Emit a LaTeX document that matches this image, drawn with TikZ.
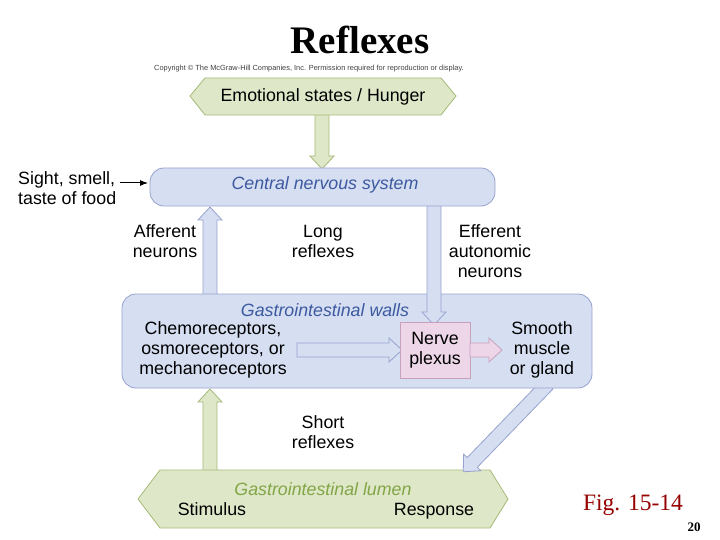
\documentclass[tikz,border=0pt]{standalone}
\usepackage{fontspec}
\setmainfont{Liberation Sans}
\newfontfamily\timesf{Liberation Serif}
\usetikzlibrary{arrows.meta}
\definecolor{gfill}{RGB}{222,232,200}
\definecolor{gedge}{RGB}{165,185,120}
\definecolor{bfill}{RGB}{214,222,242}
\definecolor{bedge}{RGB}{150,162,205}
\definecolor{pfill}{RGB}{236,214,232}
\definecolor{pedge}{RGB}{200,160,190}
\definecolor{btext}{RGB}{60,90,160}
\definecolor{gtext}{RGB}{130,165,70}
\definecolor{figred}{RGB}{150,0,0}
\tikzset{
  txt/.style={font=\fontsize{17.8}{20}\selectfont, align=center, inner sep=0},
  itb/.style={font=\fontsize{17.8}{20}\selectfont\itshape, text=btext, inner sep=0},
  garr/.style={fill=gfill, draw=gedge, line width=0.8pt},
  barr/.style={fill=bfill, draw=bedge, line width=0.8pt},
  parr/.style={fill=pfill, draw=pedge, line width=0.8pt},
  box/.style={line width=0.8pt},
}
\newcommand\farrow[5]{\begin{scope}[shift={(#1,#2)}, rotate=#3]
\draw[#5] (0,-7)--(#4-13,-7)--(#4-13,-12)--(#4,0)--(#4-13,12)--(#4-13,7)--(0,7)--cycle;
\end{scope}}
\begin{document}
\begin{tikzpicture}[x=1pt,y=-1pt]
\useasboundingbox (0,0) rectangle (720,540);
\node[font=\timesf\bfseries\fontsize{39}{41}\selectfont, inner sep=0] (title) at (360,40) {Reflexes};
\node[font=\fontsize{7.4}{8}\selectfont, text=black!75, inner sep=0] (copy) at (309,69) {Copyright © The McGraw-Hill Companies, Inc. Permission required for reproduction or display.};
% arrows behind boxes
\farrow{210}{296}{90}{89}{barr}
\farrow{210}{472}{90}{83}{garr}
\farrow{322}{113}{-90}{56}{garr}
% lumen
\draw[fill=gfill, draw=gedge, box] (138,499) -- (160,470) -- (490,470) -- (508,499) -- (490,528) -- (160,528) -- cycle;
\node[font=\fontsize{17.8}{20}\selectfont\itshape, text=gtext, inner sep=0] (lum) at (323,489) {Gastrointestinal lumen};
\node[txt, anchor=base] (stim) at (212,515) {Stimulus};
\node[txt, anchor=base] (resp) at (434,515) {Response};
\farrow{548}{384}{226}{122}{barr}
% GI walls
\draw[fill=bfill, draw=bedge, box, rounded corners=14pt] (122,294) rectangle (592,388);
\farrow{434}{203}{-90}{122}{barr}
% CNS
\draw[fill=bfill, draw=bedge, box, rounded corners=14pt] (150,168) rectangle (495,206);
\node[itb] (cns) at (325,185) {Central nervous system};
% emotional hexagon
\draw[fill=gfill, draw=gedge, box] (190,96) -- (205,78) -- (441,78) -- (456,96) -- (441,115) -- (205,115) -- cycle;
\node[txt] (emo) at (323,97) {Emotional states / Hunger};
\node[txt, align=left, anchor=west] (sight) at (18,188) {Sight, smell,\\taste of food};
\coordinate (cnsl) at (148,183);
\draw[-{Latex[length=8pt]}, line width=1pt] (120,183) -- (cnsl);
\node[txt] (aff) at (165,241) {Afferent\\neurons};
\node[txt] (long) at (323,241) {Long\\reflexes};
\node[txt] (eff) at (490,251) {Efferent\\autonomic\\neurons};
\node[itb] (giw) at (325,310) {Gastrointestinal walls};
\node[txt] (chemo) at (213,350) {Chemoreceptors,\\osmoreceptors, or\\mechanoreceptors};
\farrow{297}{350}{0}{105}{barr}
\draw[fill=pfill, draw=pedge, box] (400,322) rectangle (470,378);
\node[txt] (np) at (435,350) {Nerve\\plexus};
\farrow{470}{350}{0}{32}{parr}
\node[txt] (sm) at (542,350) {Smooth\\muscle\\or gland};
\node[txt] (short) at (323,432) {Short\\reflexes};
\node[font=\timesf\fontsize{23.5}{25}\selectfont, text=figred, inner sep=0] (fig) at (633,505) {Fig. 15-14};
\node[font=\timesf\bfseries\fontsize{13}{14}\selectfont, inner sep=0] (num) at (694,527) {20};
\end{tikzpicture}
\end{document}
